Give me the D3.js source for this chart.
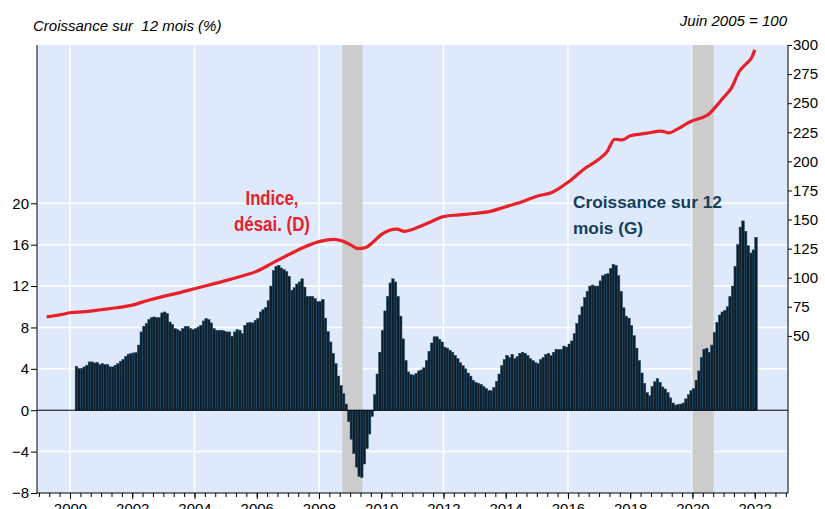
<!DOCTYPE html>
<html>
<head>
<meta charset="utf-8">
<script src="https://cdnjs.cloudflare.com/ajax/libs/d3/7.8.5/d3.min.js"></script>
<style>
  body { margin: 0; background: #fff; }
  svg { display: block; font-family: "Liberation Sans", Arial, sans-serif; }
</style>
</head>
<body>
<div id="chart"></div>
<script>
// monthly 12-month growth (%), first bar = March 2000
var growthStart = 2000 + 2 / 12;
var growth = [
  4.25, 4.03, 4.03, 4.19, 4.35, 4.67, 4.67, 4.57, 4.63, 4.41,
  4.5, 4.41, 4.41, 4.19, 4.19, 4.35, 4.5, 4.73, 4.9, 5.2, 5.41, 5.47,
  5.54, 5.57, 6.3, 7.57, 8.12, 8.37, 8.79, 8.95, 9.02, 8.95, 8.95, 9.41,
  9.5, 9.35, 8.53, 8.31, 7.89, 7.79, 7.66, 7.89, 8.1, 8.1, 7.89, 7.79,
  7.89, 8.05, 8.21, 8.63, 8.86, 8.76, 8.44, 7.89, 7.73, 7.73, 7.73, 7.66,
  7.57, 7.57, 7.15, 7.57, 7.79, 7.73, 7.41, 8.21, 8.44, 8.47, 8.44, 8.7,
  8.86, 9.5, 9.73, 9.92, 10.6, 12.0, 13.5, 13.9, 14.0, 13.75, 13.6, 13.4,
  12.95, 11.6, 11.85, 12.2, 12.4, 12.7, 11.9, 11.0, 11.0, 11.0, 10.8, 10.5,
  10.5, 10.7, 8.9, 7.6, 6.6, 5.5, 4.5, 3.3, 2.4, 1.6, 0.6, -1.1,
  -2.8, -4.2, -5.5, -6.4, -6.5, -5.2, -3.7, -2.3, -0.6, 1.5, 3.5, 5.6,
  7.7, 9.6, 11.0, 12.3, 12.7, 12.4, 11.0, 9.1, 6.9, 4.8, 3.7, 3.45,
  3.4, 3.55, 3.8, 3.9, 4.1, 4.8, 5.7, 6.5, 7.1, 7.1, 6.85, 6.6,
  6.1, 6.0, 5.8, 5.6, 5.3, 5.0, 4.6, 4.3, 4.0, 3.6, 3.3, 2.9,
  2.7, 2.6, 2.5, 2.3, 2.1, 1.9, 1.9, 2.2, 2.8, 3.5, 4.3, 4.9,
  5.3, 5.1, 5.4, 5.0, 5.2, 5.5, 5.6, 5.5, 5.3, 5.0, 4.8, 4.6,
  4.5, 4.9, 5.1, 5.4, 5.5, 5.3, 5.6, 5.9, 5.86, 5.86, 6.2, 6.1,
  6.4, 6.7, 7.4, 8.4, 9.2, 10.0, 10.9, 11.5, 12.0, 12.1, 12.0, 12.0,
  12.5, 13.0, 13.15, 13.2, 13.7, 14.1, 14.0, 13.0, 11.5, 9.9, 9.1, 8.9,
  8.2, 7.2, 6.0, 4.8, 3.6, 2.6, 1.7, 1.4, 2.3, 2.75, 3.05, 2.7,
  2.25, 2.05, 1.7, 1.2, 0.7, 0.5, 0.55, 0.6, 0.7, 1.1, 1.5, 1.9,
  2.1, 2.9, 3.8, 5.1, 5.9, 6.0, 5.6, 6.3, 7.5, 8.5, 9.2, 9.5,
  9.65, 10.0, 11.0, 12.0, 13.9, 16.0, 17.7, 18.3, 17.3, 15.9, 15.2, 15.5,
  16.7
];

// index, seasonally adjusted (June 2005 = 100)
var indexDates = [
  1999.25, 1999.5, 1999.75, 2000, 2000.5, 2001, 2001.5, 2002, 2002.5, 2003,
  2003.5, 2004, 2004.5, 2005, 2005.5, 2006, 2006.5, 2007, 2007.5, 2008,
  2008.5, 2008.75, 2009, 2009.25, 2009.5, 2009.75, 2010, 2010.5, 2010.75, 2011,
  2011.5, 2012, 2012.5, 2013, 2013.5, 2014, 2014.5, 2015, 2015.5, 2016,
  2016.5, 2017, 2017.25, 2017.5, 2017.75, 2018, 2018.5, 2019, 2019.25, 2019.5,
  2020, 2020.25, 2020.5, 2020.75, 2021, 2021.25, 2021.5, 2021.75, 2021.92, 2022
];
var indexValues = [
  66.3, 67.3, 68.5, 69.9, 70.8, 72.5, 74.2, 76.5, 80.5, 84.0,
  87.0, 90.5, 94.0, 97.5, 101.3, 105.5, 112.5, 119.5, 126, 131,
  133, 131.6, 128.5, 125, 126, 131, 137, 141.7, 139.8, 141.5,
  147, 152.5, 154, 155.2, 157, 161, 165, 170, 173.5, 182,
  193, 202, 208, 219, 218.5, 222, 224, 226, 224.4, 227.5,
  235, 237, 240, 247, 255, 263, 277, 284.5, 290, 296
];

var recessions = [[2008.75, 2009.4], [2020.0, 2020.68]];
var leftTicks = [-8, -4, 0, 4, 8, 12, 16, 20];
var rightTicks = [50, 75, 100, 125, 150, 175, 200, 225, 250, 275, 300];
var yearLabels = [2000, 2002, 2004, 2006, 2008, 2010, 2012, 2014, 2016, 2018, 2020, 2022];
var gridYears = [2000, 2004, 2008, 2012, 2016, 2020];

var width = 825, height = 509;
var plot = { left: 37, right: 788, top: 45, bottom: 493 };

var svg = d3.select("#chart").append("svg")
  .attr("width", width)
  .attr("height", height);

var x = d3.scaleLinear().domain([1998.94, 2023.07]).range([plot.left, plot.right]);
var yL = d3.scaleLinear().domain([-8, 35.3]).range([plot.bottom, plot.top]);
var yR = d3.scaleLinear().domain([-85, 300]).range([plot.bottom, plot.top]);

// background
svg.append("rect")
  .attr("x", plot.left).attr("y", plot.top)
  .attr("width", plot.right - plot.left).attr("height", plot.bottom - plot.top)
  .attr("fill", "#deeafb");

// grid
svg.append("g").selectAll("line")
  .data(leftTicks.filter(d => d !== -8 && d !== 0))
  .enter().append("line")
  .attr("x1", plot.left).attr("x2", plot.right)
  .attr("y1", d => yL(d)).attr("y2", d => yL(d))
  .attr("stroke", "#fff").attr("stroke-width", 1.5);

svg.append("g").selectAll("line")
  .data(gridYears)
  .enter().append("line")
  .attr("x1", d => x(d)).attr("x2", d => x(d))
  .attr("y1", plot.top).attr("y2", plot.bottom)
  .attr("stroke", "#fff").attr("stroke-width", 1.5);

// recession shading
svg.append("g").selectAll("rect")
  .data(recessions)
  .enter().append("rect")
  .attr("x", d => x(d[0]))
  .attr("width", d => x(d[1]) - x(d[0]))
  .attr("y", plot.top)
  .attr("height", plot.bottom - plot.top)
  .attr("fill", "#cccccc");

// bars
var monthW = x(growthStart + 1 / 12) - x(growthStart);
svg.append("g").selectAll("rect")
  .data(growth)
  .enter().append("rect")
  .attr("x", (d, i) => x(growthStart + i / 12))
  .attr("width", monthW)
  .attr("y", d => d >= 0 ? yL(d) : yL(0))
  .attr("height", d => Math.abs(yL(d) - yL(0)))
  .attr("fill", "#0f1e2b")
  .attr("stroke", "#1d4a6b")
  .attr("stroke-width", 0.5);

// zero line
svg.append("line")
  .attr("x1", plot.left).attr("x2", plot.right)
  .attr("y1", yL(0)).attr("y2", yL(0))
  .attr("stroke", "#000").attr("stroke-width", 1);

// index line
var line = d3.line()
  .x((d, i) => x(indexDates[i]))
  .y(d => yR(d))
  .curve(d3.curveMonotoneX);

svg.append("path")
  .datum(indexValues)
  .attr("d", line)
  .attr("fill", "none")
  .attr("stroke", "#e8202a")
  .attr("stroke-width", 3.2);

// axes
var leftAxis = d3.axisLeft(yL).tickValues(leftTicks).tickSize(6).tickPadding(2);
var gL = svg.append("g").attr("transform", `translate(${plot.left},0)`).call(leftAxis);
gL.select(".domain").remove();
gL.append("line").attr("x1", 0).attr("x2", 0).attr("y1", plot.top).attr("y2", plot.bottom).attr("stroke", "#000");

var rightAxis = d3.axisRight(yR).tickValues(rightTicks).tickSize(4).tickPadding(1);
var gR = svg.append("g").attr("transform", `translate(${plot.right},0)`).call(rightAxis);
gR.select(".domain").remove();
gR.append("line").attr("x1", 0).attr("x2", 0).attr("y1", plot.top).attr("y2", plot.bottom).attr("stroke", "#000");

var minorTicks = d3.range(1999, 2023.01, 1 / 3);
var bottomAxis = d3.axisBottom(x).tickValues(minorTicks).tickSize(4).tickFormat("");
var gB = svg.append("g").attr("transform", `translate(0,${plot.bottom})`).call(bottomAxis);
gB.select(".domain").remove();
gB.append("line").attr("x1", plot.left).attr("x2", plot.right).attr("stroke", "#000");

var majorAxis = d3.axisBottom(x).tickValues(yearLabels).tickSize(6).tickPadding(4).tickFormat(d3.format("d"));
var gM = svg.append("g").attr("transform", `translate(0,${plot.bottom})`).call(majorAxis);
gM.select(".domain").remove();

svg.selectAll(".tick text").attr("font-size", 15).attr("fill", "#000").attr("font-family", "Liberation Sans, Arial, sans-serif");
svg.selectAll(".tick line").attr("stroke", "#000");

// titles
svg.append("text")
  .attr("x", 33).attr("y", 31)
  .attr("font-size", 15).attr("font-style", "italic")
  .attr("xml:space", "preserve")
  .text("Croissance sur  12 mois (%)");

svg.append("text")
  .attr("x", 787).attr("y", 26)
  .attr("text-anchor", "end")
  .attr("font-size", 15).attr("font-style", "italic")
  .text("Juin 2005 = 100");

// series labels
var redLab = svg.append("text")
  .attr("text-anchor", "middle")
  .attr("font-weight", "bold").attr("font-size", 20)
  .attr("fill", "#e8202a");
redLab.append("tspan").attr("x", 272).attr("y", 205)
  .attr("textLength", 53).attr("lengthAdjust", "spacingAndGlyphs").text("Indice,");
redLab.append("tspan").attr("x", 272).attr("y", 231)
  .attr("textLength", 76).attr("lengthAdjust", "spacingAndGlyphs").text("désai. (D)");

var blueLab = svg.append("text")
  .attr("font-weight", "bold").attr("font-size", 17.3)
  .attr("fill", "#163d5c");
blueLab.append("tspan").attr("x", 573).attr("y", 208).text("Croissance sur 12");
blueLab.append("tspan").attr("x", 573).attr("y", 234).text("mois (G)");
</script>
</body>
</html>
